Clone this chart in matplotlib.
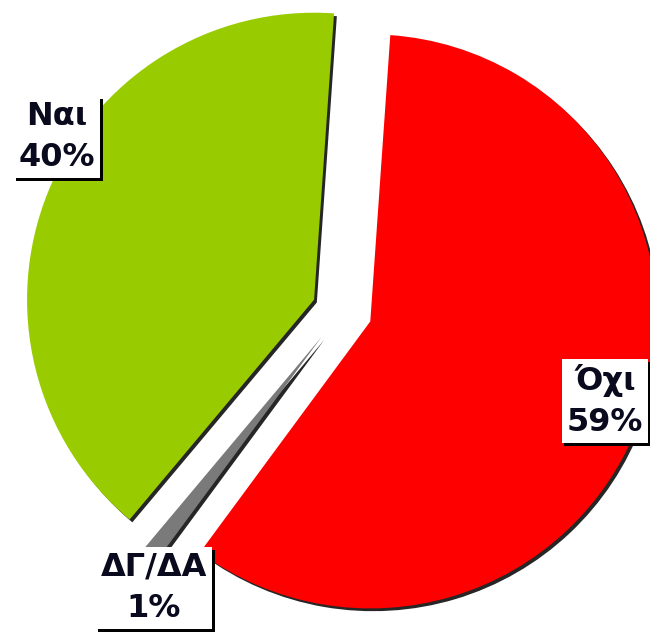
import matplotlib
matplotlib.use("Agg")
import matplotlib.pyplot as plt
import matplotlib.patheffects as pe

labels = ["Όχι", "ΔΓ/ΔΑ", "Ναι"]
values = [59, 1, 40]
pct_labels = ["59%", "1%", "40%"]
colors = ["#FF0000", "#7A7A7A", "#99CC00"]

W, H = 650, 632
fig = plt.figure(figsize=(W / 100, H / 100), dpi=100)
ax = fig.add_axes([0, 0, 1, 1])

R_PX = 287.0
CX, CY = 342.0, 311.0


def px(x, y):
    return (x - CX) / R_PX, (CY - y) / R_PX


shadow = [pe.SimplePatchShadow(offset=(2.0, -2.0), shadow_rgbFace="black", alpha=0.85), pe.Normal()]
wedges, _ = ax.pie(values, colors=colors, startangle=86, counterclock=False,
                   explode=[0.105, 0.115, 0.105], radius=1.0, center=(0, 0),
                   frame=False,
                   wedgeprops=dict(linewidth=0, path_effects=shadow))

ax.set_aspect("auto")
ax.set_xlim(px(0, 0)[0], px(W, 0)[0])
ax.set_ylim(px(0, H)[1], px(0, 0)[1])
ax.axis("off")

label_pos = [(605, 401), (154, 588), (57, 137)]
for lab, pct, (x, y) in zip(labels, pct_labels, label_pos):
    t = ax.text(*px(x, y), f"{lab}\n{pct}", ha="center", va="center",
                fontsize=23, fontweight="bold", color="#0a0a1e",
                family="DejaVu Sans", linespacing=1.42,
                bbox=dict(boxstyle="square,pad=0.16", fc="white", ec="none"))
    t.get_bbox_patch().set_path_effects(
        [pe.SimplePatchShadow(offset=(2, -2), shadow_rgbFace="black", alpha=1.0), pe.Normal()])

fig.savefig("out.png", dpi=100)
